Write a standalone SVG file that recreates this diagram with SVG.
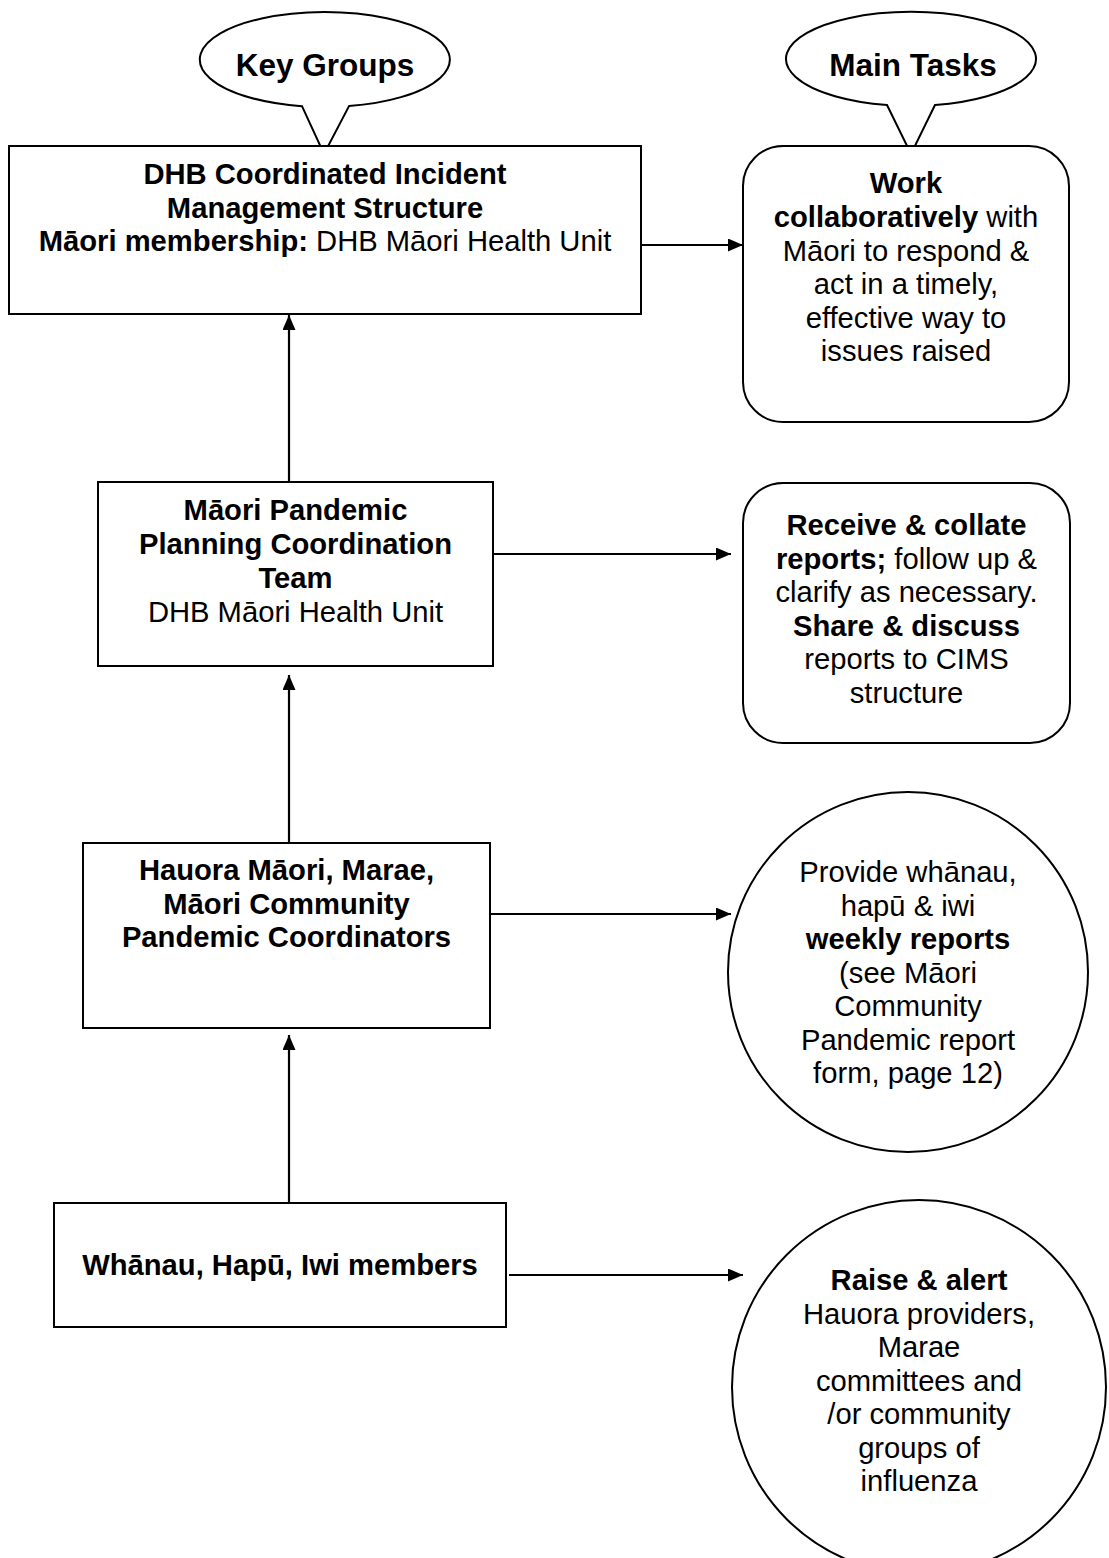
<svg xmlns="http://www.w3.org/2000/svg" width="1109" height="1558" viewBox="0 0 1109 1558">
<defs>
<marker id="ah" viewBox="0 0 15 13" refX="15" refY="6.5" markerWidth="15" markerHeight="13" markerUnits="userSpaceOnUse" orient="auto">
<path d="M0,0 L15,6.5 L0,13 Z" fill="#000"/>
</marker>
<style>
.shape{fill:#fff;stroke:#000;stroke-width:2}
.conn{fill:none;stroke:#000;stroke-width:2.2;marker-end:url(#ah)}
text{font-family:"Liberation Sans",Arial,sans-serif;font-size:29.2px;fill:#000;text-anchor:middle}
.b{font-weight:bold}
.title{font-size:31.5px;font-weight:bold}
</style>
</defs>
<rect width="1109" height="1558" fill="#fff"/>

<g id="callout-key-groups">
<path class="shape" d="M302,106.2 A125,47.5 0 1 1 349,106.1 L324,154 Z"/>
<text class="title" x="325" y="76">Key Groups</text>
</g>
<g id="callout-main-tasks">
<path class="shape" d="M887,105 A125,47 0 1 1 935,105 L911,154 Z"/>
<text class="title" x="913" y="76">Main Tasks</text>
</g>

<g id="connectors">
<line class="conn" x1="289" y1="482" x2="289" y2="315"/>
<line class="conn" x1="289" y1="843" x2="289" y2="675"/>
<line class="conn" x1="289" y1="1203" x2="289" y2="1035"/>
<line class="conn" x1="641" y1="245" x2="743" y2="245"/>
<line class="conn" x1="494" y1="554" x2="731" y2="554"/>
<line class="conn" x1="491" y1="914" x2="731" y2="914"/>
<line class="conn" x1="509" y1="1275" x2="743" y2="1275"/>
</g>

<g id="node-cims">
<rect class="shape" x="9" y="146" width="632" height="168"/>
<text class="b" x="325" y="184">DHB Coordinated Incident</text>
<text class="b" x="325" y="217.5">Management Structure</text>
<text x="325" y="251"><tspan class="b">Māori membership:</tspan> DHB Māori Health Unit</text>
</g>

<g id="node-coordination-team">
<rect class="shape" x="98" y="482" width="395" height="184"/>
<text class="b" x="295.5" y="520">Māori Pandemic</text>
<text class="b" x="295.5" y="554">Planning Coordination</text>
<text class="b" x="295.5" y="588">Team</text>
<text x="295.5" y="622">DHB Māori Health Unit</text>
</g>

<g id="node-coordinators">
<rect class="shape" x="83" y="843" width="407" height="185"/>
<text class="b" x="286.5" y="880">Hauora Māori, Marae,</text>
<text class="b" x="286.5" y="913.5">Māori Community</text>
<text class="b" x="286.5" y="947">Pandemic Coordinators</text>
</g>

<g id="node-members">
<rect class="shape" x="54" y="1203" width="452" height="124"/>
<text class="b" x="280" y="1275">Whānau, Hapū, Iwi members</text>
</g>

<g id="task-collaborate">
<rect class="shape" x="743" y="146" width="326" height="276" rx="40" ry="40"/>
<text class="b" x="906" y="193">Work</text>
<text x="906" y="227"><tspan class="b">collaboratively</tspan> with</text>
<text x="906" y="260.5">Māori to respond &amp;</text>
<text x="906" y="294">act in a timely,</text>
<text x="906" y="327.5">effective way to</text>
<text x="906" y="361">issues raised</text>
</g>

<g id="task-collate">
<rect class="shape" x="743" y="483" width="327" height="260" rx="40" ry="40"/>
<text class="b" x="906.5" y="535">Receive &amp; collate</text>
<text x="906.5" y="568.5"><tspan class="b">reports;</tspan> follow up &amp;</text>
<text x="906.5" y="602">clarify as necessary.</text>
<text class="b" x="906.5" y="635.5">Share &amp; discuss</text>
<text x="906.5" y="669">reports to CIMS</text>
<text x="906.5" y="702.5">structure</text>
</g>

<g id="task-weekly-reports">
<circle class="shape" cx="908" cy="972" r="180"/>
<text x="908" y="882">Provide whānau,</text>
<text x="908" y="915.5">hapū &amp; iwi</text>
<text class="b" x="908" y="949">weekly reports</text>
<text x="908" y="982.5">(see Māori</text>
<text x="908" y="1016">Community</text>
<text x="908" y="1049.5">Pandemic report</text>
<text x="908" y="1083">form, page 12)</text>
</g>

<g id="task-raise-alert">
<circle class="shape" cx="919" cy="1387" r="187"/>
<text class="b" x="919" y="1290">Raise &amp; alert</text>
<text x="919" y="1323.5">Hauora providers,</text>
<text x="919" y="1357">Marae</text>
<text x="919" y="1390.5">committees and</text>
<text x="919" y="1424">/or community</text>
<text x="919" y="1457.5">groups of</text>
<text x="919" y="1491">influenza</text>
</g>
</svg>
